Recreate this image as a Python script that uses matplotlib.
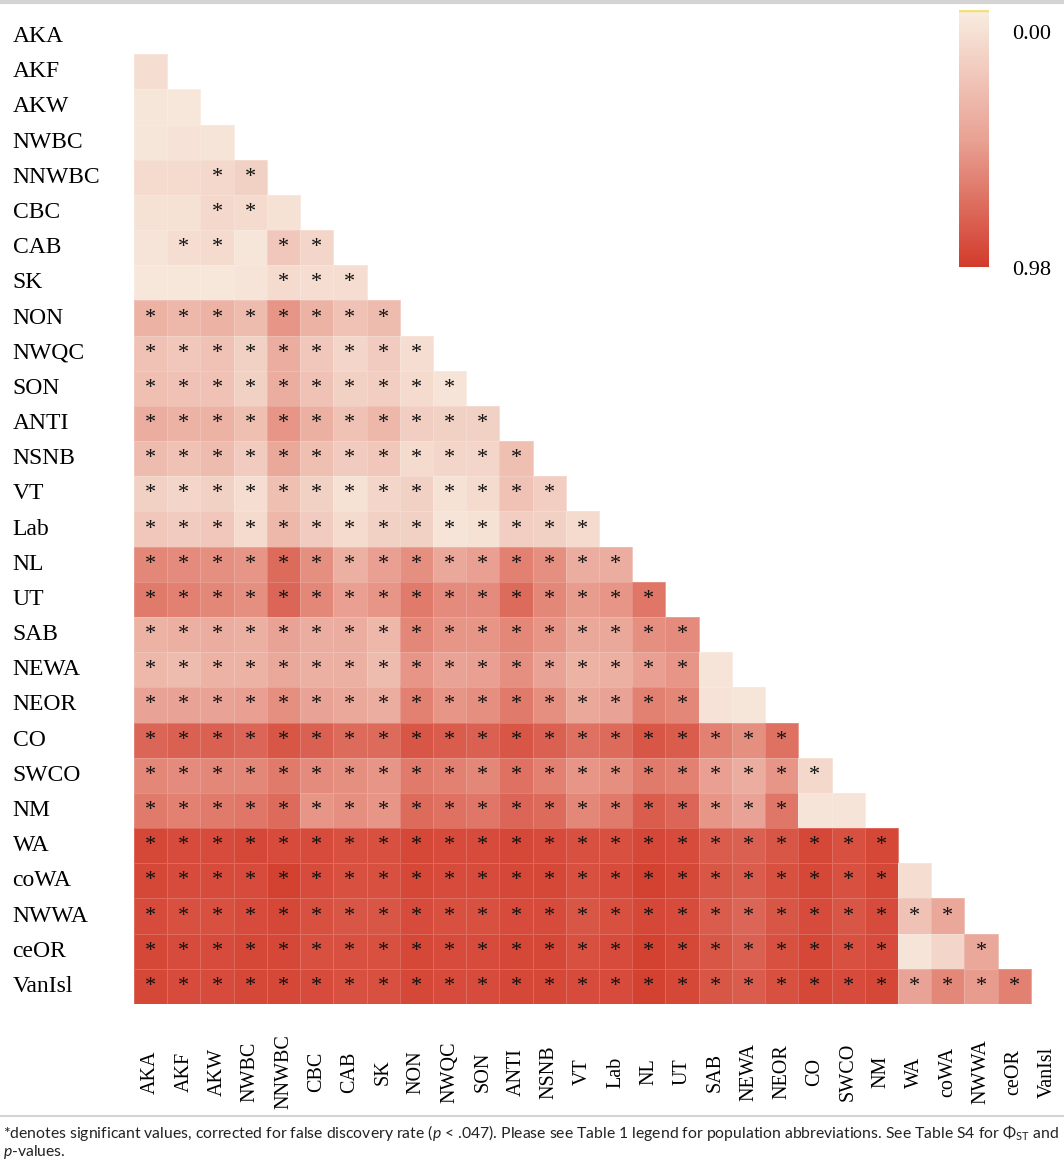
import numpy as np
import matplotlib
matplotlib.use('Agg')
import matplotlib.pyplot as plt
from matplotlib.colors import LinearSegmentedColormap
from matplotlib.lines import Line2D

plt.rcParams['mathtext.fontset'] = 'custom'
plt.rcParams['mathtext.rm'] = 'Lato'
plt.rcParams['mathtext.it'] = 'Lato:italic'

pops = ['AKA', 'AKF', 'AKW', 'NWBC', 'NNWBC', 'CBC', 'CAB', 'SK', 'NON', 'NWQC',
        'SON', 'ANTI', 'NSNB', 'VT', 'Lab', 'NL', 'UT', 'SAB', 'NEWA', 'NEOR',
        'CO', 'SWCO', 'NM', 'WA', 'coWA', 'NWWA', 'ceOR', 'VanIsl']

# pairwise PhiST, lower triangle (row i against columns 0..i-1), starting at AKF
phi = [
    [0.10],
    [0.05, 0.04],
    [0.05, 0.07, 0.06],
    [0.12, 0.12, 0.14, 0.18],
    [0.08, 0.08, 0.14, 0.12, 0.08],
    [0.06, 0.10, 0.12, 0.05, 0.25, 0.15],
    [0.04, 0.04, 0.04, 0.06, 0.12, 0.10, 0.10],
    [0.38, 0.35, 0.38, 0.32, 0.55, 0.38, 0.28, 0.32],
    [0.28, 0.25, 0.28, 0.18, 0.42, 0.25, 0.15, 0.22, 0.10],
    [0.30, 0.28, 0.28, 0.18, 0.42, 0.28, 0.18, 0.20, 0.12, 0.06],
    [0.42, 0.38, 0.38, 0.30, 0.55, 0.40, 0.28, 0.35, 0.20, 0.18, 0.18],
    [0.32, 0.28, 0.32, 0.22, 0.45, 0.30, 0.22, 0.25, 0.12, 0.15, 0.15, 0.30],
    [0.18, 0.15, 0.18, 0.10, 0.30, 0.18, 0.08, 0.15, 0.18, 0.08, 0.12, 0.28, 0.20],
    [0.25, 0.22, 0.25, 0.12, 0.35, 0.22, 0.12, 0.18, 0.18, 0.06, 0.08, 0.20, 0.18, 0.12],
    [0.62, 0.60, 0.58, 0.55, 0.75, 0.58, 0.40, 0.50, 0.58, 0.45, 0.50, 0.65, 0.58, 0.42, 0.42],
    [0.68, 0.65, 0.62, 0.58, 0.78, 0.62, 0.50, 0.55, 0.68, 0.60, 0.60, 0.75, 0.62, 0.52, 0.55,
     0.70],
    [0.38, 0.40, 0.42, 0.40, 0.48, 0.42, 0.42, 0.35, 0.62, 0.55, 0.55, 0.62, 0.55, 0.45, 0.45,
     0.58, 0.60],
    [0.35, 0.32, 0.38, 0.38, 0.45, 0.40, 0.40, 0.32, 0.55, 0.48, 0.50, 0.58, 0.48, 0.38, 0.40,
     0.50, 0.55, 0.06],
    [0.48, 0.48, 0.48, 0.50, 0.58, 0.48, 0.45, 0.42, 0.65, 0.55, 0.58, 0.68, 0.58, 0.45, 0.48,
     0.65, 0.62, 0.07, 0.05],
    [0.78, 0.80, 0.80, 0.78, 0.85, 0.80, 0.75, 0.75, 0.85, 0.82, 0.80, 0.85, 0.80, 0.72, 0.75,
     0.85, 0.82, 0.65, 0.58, 0.72],
    [0.62, 0.60, 0.62, 0.62, 0.68, 0.60, 0.58, 0.55, 0.68, 0.65, 0.62, 0.72, 0.65, 0.55, 0.58,
     0.68, 0.65, 0.50, 0.42, 0.55, 0.14],
    [0.68, 0.65, 0.68, 0.70, 0.75, 0.55, 0.58, 0.55, 0.75, 0.72, 0.70, 0.78, 0.75, 0.62, 0.68,
     0.82, 0.78, 0.55, 0.48, 0.70, 0.06, 0.06],
    [0.92, 0.90, 0.90, 0.92, 0.90, 0.90, 0.88, 0.88, 0.92, 0.90, 0.90, 0.92, 0.90, 0.88, 0.88,
     0.92, 0.90, 0.82, 0.80, 0.85, 0.92, 0.88, 0.92],
    [0.92, 0.90, 0.90, 0.90, 0.95, 0.90, 0.88, 0.88, 0.92, 0.90, 0.90, 0.92, 0.92, 0.88, 0.90,
     0.95, 0.92, 0.85, 0.82, 0.88, 0.92, 0.88, 0.92, 0.10],
    [0.90, 0.88, 0.88, 0.90, 0.92, 0.88, 0.85, 0.85, 0.90, 0.88, 0.88, 0.90, 0.90, 0.85, 0.88,
     0.92, 0.90, 0.82, 0.78, 0.85, 0.90, 0.85, 0.90, 0.28, 0.45],
    [0.92, 0.90, 0.90, 0.92, 0.92, 0.88, 0.88, 0.88, 0.92, 0.90, 0.90, 0.92, 0.92, 0.88, 0.90,
     0.95, 0.92, 0.85, 0.80, 0.88, 0.92, 0.88, 0.90, 0.06, 0.15, 0.45],
    [0.92, 0.90, 0.90, 0.92, 0.92, 0.90, 0.88, 0.88, 0.92, 0.90, 0.90, 0.92, 0.92, 0.90, 0.90,
     0.95, 0.92, 0.85, 0.82, 0.88, 0.92, 0.90, 0.92, 0.48, 0.62, 0.52, 0.65],
]

# 1 = significant after FDR correction
sig = [
    '0',
    '00',
    '000',
    '0011',
    '00110',
    '011011',
    '0000111',
    '11111111',
    '111111111',
    '1111111111',
    '11111111111',
    '111111111111',
    '1111111111111',
    '11111111111111',
    '111111111111111',
    '1111111111111111',
    '11111111111111111',
    '111111111111111110',
    '1111111111111111100',
    '11111111111111111111',
    '111111111111111111111',
    '1111111111111111111100',
    '11111111111111111111111',
    '111111111111111111111110',
    '1111111111111111111111111',
    '11111111111111111111111001',
    '111111111111111111111111111',
]

vmin, vmax = 0.0, 0.98
cmap = LinearSegmentedColormap.from_list('phist', ['#F8EDE1', '#E9A294', '#D23B2B'])
serif = 'Liberation Serif'

n = len(pops)
mat = np.full((n, n), np.nan)
for i, row in enumerate(phi, start=1):
    mat[i, :len(row)] = row
mat = np.ma.masked_invalid(mat)

fig = plt.figure(figsize=(10.64, 11.63), dpi=100)
ax = fig.add_axes([0.126, 1 - 1004 / 1163, 0.874, 985 / 1163])
mesh = ax.pcolormesh(np.arange(n + 1), np.arange(n + 1), mat, cmap=cmap,
                     vmin=vmin, vmax=vmax, edgecolors=(1, 1, 1, 0.18), linewidth=0.5)
ax.set_xlim(0, n)
ax.set_ylim(n, 0)

for i, flags in enumerate(sig, start=1):
    for j, f in enumerate(flags):
        if f == '1':
            ax.text(j + 0.5, i + 0.5, '*', ha='center', va='center',
                    fontsize=16, family=serif, color='#111111')

ax.set_xticks(np.arange(n) + 0.5)
ax.set_xticklabels(pops, rotation=90, va='center', ha='center', fontsize=14.5, family=serif)
ax.set_yticks(np.arange(n) + 0.5)
ax.set_yticklabels(pops, ha='left', va='center', fontsize=17, family=serif)
ax.tick_params(axis='x', length=0, pad=49)
ax.tick_params(axis='y', length=0, pad=87.5)
for s in ax.spines.values():
    s.set_visible(False)

# colorbar
cax = fig.add_axes([959 / 1064, 1 - 267 / 1163, 30 / 1064, 257 / 1163])
cb = fig.colorbar(mesh, cax=cax)
cax.invert_yaxis()
cb.set_ticks([])
cb.outline.set_visible(False)
cax.axhline(vmin, color='#F2E07A', lw=2.5)
cax.text(1.77, 0.905, '%.2f' % vmin, transform=cax.transAxes, ha='left', va='center',
         fontsize=16, family=serif)
cax.text(1.77, -0.012, '%.2f' % vmax, transform=cax.transAxes, ha='left', va='center',
         fontsize=16, family=serif)

# caption area
fig.add_artist(Line2D([0, 1], [0.9985, 0.9985], transform=fig.transFigure,
                      color='#d4d4d4', lw=3))
fig.add_artist(Line2D([0, 1], [1 - 1116 / 1163, 1 - 1116 / 1163], transform=fig.transFigure,
                      color='#d4d4d4', lw=1.5))

cap1 = (r'*denotes significant values, corrected for false discovery rate ($p$ < .047). '
        r'Please see Table 1 legend for population abbreviations. See Table S4 for '
        r'$\mathrm{\Phi}_{\mathrm{ST}}$ and')
cap2 = r'$p$-values.'
t1 = fig.text(0.003, 1 - 1133 / 1163, cap1, ha='left', va='center', fontsize=11,
              family='Lato', color='#222222')
t2 = fig.text(0.003, 1 - 1152 / 1163, cap2, ha='left', va='center', fontsize=11,
              family='Lato', color='#222222')

# shrink the caption so its first line fits the page width
fig.canvas.draw()
w = t1.get_window_extent().width
size = 11 * 1056 / w
t1.set_fontsize(size)
t2.set_fontsize(size)

fig.savefig('out.png', dpi=100)
